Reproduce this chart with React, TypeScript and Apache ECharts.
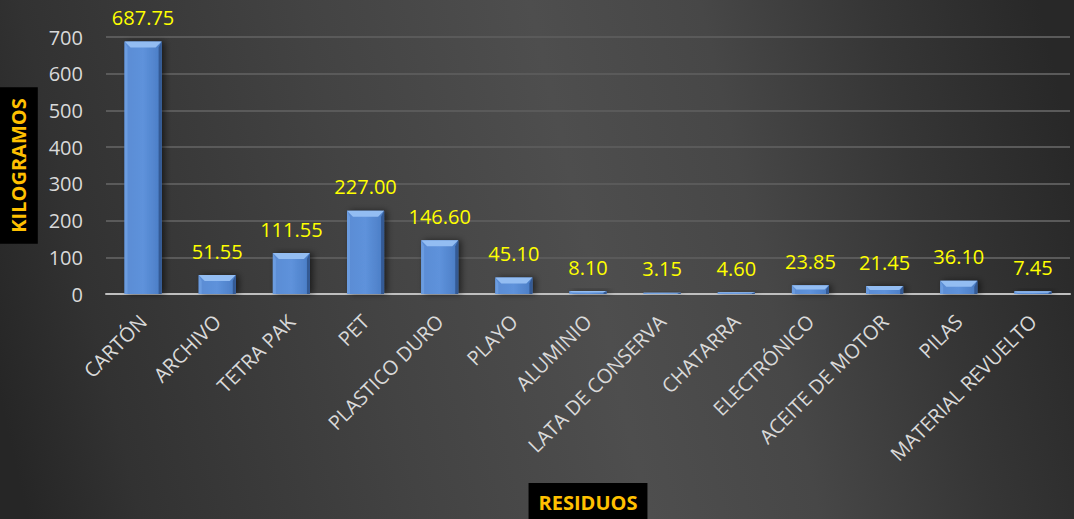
import React, { useEffect, useRef } from "react";
import * as echarts from "echarts";

const categories = [
  "CARTÓN",
  "ARCHIVO",
  "TETRA PAK",
  "PET",
  "PLASTICO DURO",
  "PLAYO",
  "ALUMINIO",
  "LATA DE CONSERVA",
  "CHATARRA",
  "ELECTRÓNICO",
  "ACEITE DE MOTOR",
  "PILAS",
  "MATERIAL REVUELTO",
];
const kilogramos = [687.75, 51.55, 111.55, 227.0, 146.6, 45.1, 8.1, 3.15, 4.6, 23.85, 21.45, 36.1, 7.45];
const yMin = 0;
const yMax = 700;
const yInterval = 100;

const FONT = "'Open Sans', 'DejaVu Sans', sans-serif";

export default function App() {
  const ref = useRef<HTMLDivElement>(null);
  useEffect(() => {
    document.body.style.margin = "0";
    if (!ref.current) return;
    const chart = echarts.init(ref.current, null, { renderer: "svg" });
    const bevelItem = (params: any, api: any) => {
      const idx = api.value(0);
      const val = api.value(1);
      const top = api.coord([idx, val]);
      const base = api.coord([idx, 0]);
      const w = api.size([1, 0])[0] * 0.5;
      const x0 = top[0] - w / 2;
      const x1 = top[0] + w / 2;
      const h = base[1] - top[1];
      const b = Math.min(6, h / 2);
      const e = Math.min(3, w / 4);
      return {
        type: "group",
        children: [
          {
            type: "polygon",
            shape: {
              points: [
                [x0, top[1]],
                [x1, top[1]],
                [x1 - b, top[1] + b],
                [x0 + b, top[1] + b],
              ],
            },
            style: { fill: "#93bdf2" },
          },
          {
            type: "polygon",
            shape: {
              points: [
                [x1, top[1]],
                [x1, base[1]],
                [x1 - e, base[1]],
                [x1 - e, top[1] + b],
              ],
            },
            style: { fill: "#345a94" },
          },
          {
            type: "polygon",
            shape: {
              points: [
                [x0, top[1]],
                [x0 + e, top[1] + b],
                [x0 + e, base[1]],
                [x0, base[1]],
              ],
            },
            style: { fill: "#6b9ce0" },
          },
        ],
      };
    };
    chart.setOption({
      animation: false,
      backgroundColor: {
        type: "linear",
        x: 0,
        y: 400,
        x2: 1074,
        y2: 150,
        global: true,
        colorStops: [
          { offset: 0, color: "#262626" },
          { offset: 0.1, color: "#323232" },
          { offset: 0.35, color: "#434343" },
          { offset: 0.55, color: "#4e4e4e" },
          { offset: 0.7, color: "#474747" },
          { offset: 0.85, color: "#363636" },
          { offset: 1, color: "#282828" },
        ],
      },
      grid: { left: 106, right: 4, top: 37, bottom: 225, containLabel: false, outerBoundsMode: "none" },
      xAxis: {
        type: "category",
        data: categories,
        name: "RESIDUOS",
        nameLocation: "middle",
        nameGap: 189,
        nameTextStyle: {
          color: "#ffc000",
          fontFamily: FONT,
          fontWeight: "bold",
          fontSize: 20,
          lineHeight: 24,
          backgroundColor: "#000000",
          padding: [7, 10, 7, 10],
        },
        axisLine: { show: true, lineStyle: { color: "#bfbfbf", width: 2 } },
        axisTick: { show: false },
        axisLabel: {
          rotate: 45,
          interval: 0,
          margin: 24,
          color: "#d9d9d9",
          fontFamily: FONT,
          fontSize: 20,
        },
      },
      yAxis: {
        type: "value",
        min: yMin,
        max: yMax,
        interval: yInterval,
        name: "KILOGRAMOS",
        nameLocation: "middle",
        nameRotate: 90,
        nameGap: 59,
        nameTextStyle: {
          color: "#ffc000",
          fontFamily: FONT,
          fontWeight: "bold",
          fontSize: 20,
          lineHeight: 26,
          backgroundColor: "#000000",
          padding: [6, 11, 6, 11],
        },
        axisLine: { show: false },
        axisTick: { show: false },
        axisLabel: {
          margin: 23,
          color: "#d9d9d9",
          fontFamily: FONT,
          fontSize: 20,
        },
        splitLine: { lineStyle: { color: "#5a5a5a", width: 2 } },
      },
      series: [
        {
          type: "bar",
          data: kilogramos,
          barWidth: "50%",
          itemStyle: {
            color: {
              type: "linear",
              x: 0,
              y: 0,
              x2: 1,
              y2: 0,
              colorStops: [
                { offset: 0, color: "#5a8cd4" },
                { offset: 0.5, color: "#5e92db" },
                { offset: 1, color: "#4a7cc4" },
              ],
            },
            shadowColor: "rgba(0,0,0,0.55)",
            shadowBlur: 6,
            shadowOffsetX: 3,
            shadowOffsetY: 0,
          },
          label: {
            show: true,
            position: "top",
            distance: 14,
            color: "#ffff00",
            fontFamily: FONT,
            fontSize: 20,
            formatter: (p: any) => Number(p.value).toFixed(2),
          },
          z: 2,
        },
        {
          type: "custom",
          data: kilogramos.map((v, i) => [i, v]),
          renderItem: bevelItem,
          silent: true,
          z: 3,
        },
      ],
    });
    return () => chart.dispose();
  }, []);
  return <div ref={ref} style={{ width: 1074, height: 519 }} />;
}
